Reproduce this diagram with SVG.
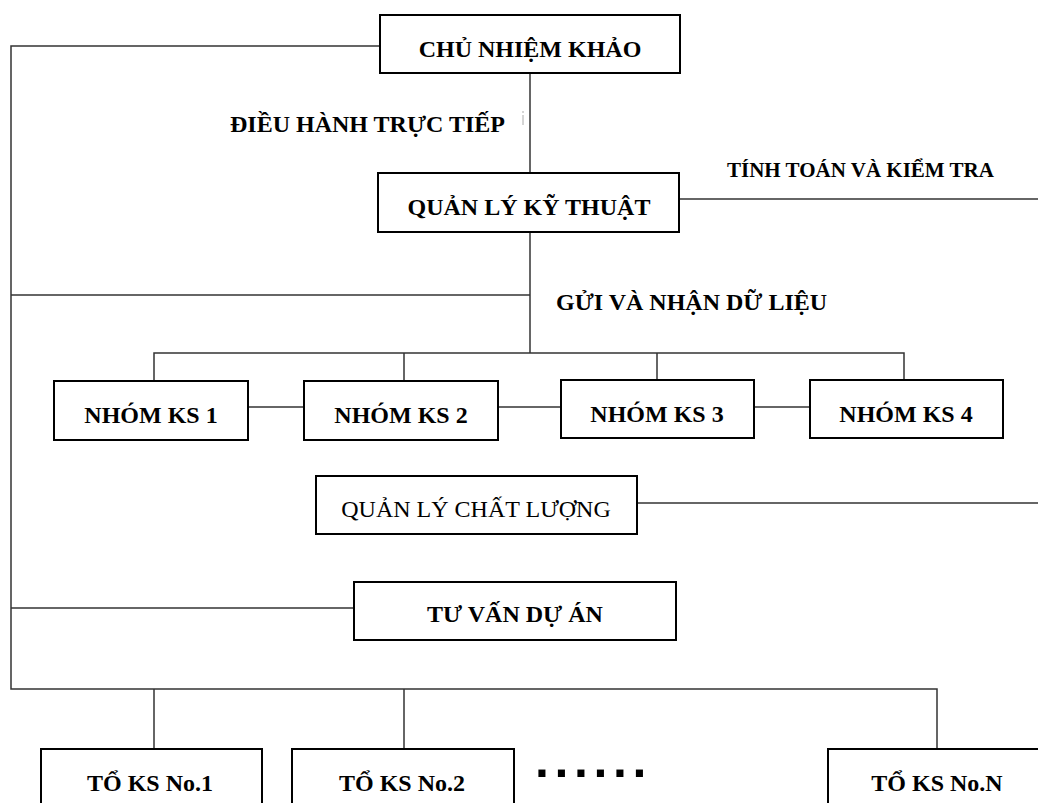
<svg xmlns="http://www.w3.org/2000/svg" width="1038" height="803" viewBox="0 0 1038 803">
<style>
text{font-family:"Liberation Serif","Times New Roman",serif;font-size:24px;font-weight:bold;fill:#000;text-anchor:middle}
.reg{font-weight:normal}
.box{fill:#fff;stroke:#000;stroke-width:2}
.ln{fill:none;stroke:#333;stroke-width:1.5}
.lbl{text-anchor:start}
</style>
<rect width="1038" height="803" fill="#fff"/>
<g id="connectors">
<polyline class="ln" points="380,46 11,46 11,689 937,689 937,749"/>
<line class="ln" x1="530" y1="73" x2="530" y2="173"/>
<line class="ln" x1="679" y1="199" x2="1038" y2="199"/>
<line class="ln" x1="530" y1="232" x2="530" y2="353"/>
<line class="ln" x1="11" y1="295" x2="530" y2="295"/>
<polyline class="ln" points="154,381 154,353 904,353 904,381"/>
<line class="ln" x1="404" y1="353" x2="404" y2="381"/>
<line class="ln" x1="657" y1="353" x2="657" y2="381"/>
<line class="ln" x1="248" y1="407" x2="304" y2="407"/>
<line class="ln" x1="498" y1="407" x2="561" y2="407"/>
<line class="ln" x1="754" y1="407" x2="810" y2="407"/>
<line class="ln" x1="637" y1="503" x2="1038" y2="503"/>
<line class="ln" x1="11" y1="608" x2="354" y2="608"/>
<line class="ln" x1="154" y1="689" x2="154" y2="749"/>
<line class="ln" x1="404" y1="689" x2="404" y2="749"/>
<line x1="523" y1="115" x2="523" y2="125" stroke="#aaa" stroke-width="1"/>
<line x1="523" y1="111" x2="523" y2="113" stroke="#aaa" stroke-width="1"/>
</g>
<g id="labels">
<text class="lbl" x="230" y="132">ĐIỀU HÀNH TRỰC TIẾP</text>
<text class="lbl" x="727" y="177" style="font-size:21px">TÍNH TOÁN VÀ KIỂM TRA</text>
<text class="lbl" x="556" y="310">GỬI VÀ NHẬN DỮ LIỆU</text>
</g>
<g id="n-chu-nhiem">
<rect class="box" x="380" y="15" width="300" height="58"/>
<text x="530" y="57">CHỦ NHIỆM KHẢO</text>
</g>
<g id="n-quan-ly-ky-thuat">
<rect class="box" x="378" y="173" width="301" height="59"/>
<text x="529" y="215">QUẢN LÝ KỸ THUẬT</text>
</g>
<g id="n-nhom-1">
<rect class="box" x="54" y="381" width="194" height="59"/>
<text x="151" y="423">NHÓM KS 1</text>
</g>
<g id="n-nhom-2">
<rect class="box" x="304" y="381" width="194" height="59"/>
<text x="401" y="423">NHÓM KS 2</text>
</g>
<g id="n-nhom-3">
<rect class="box" x="561" y="380" width="193" height="58"/>
<text x="657" y="422">NHÓM KS 3</text>
</g>
<g id="n-nhom-4">
<rect class="box" x="810" y="380" width="193" height="58"/>
<text x="906" y="422">NHÓM KS 4</text>
</g>
<g id="n-qlcl">
<rect class="box" x="316" y="476" width="321" height="58"/>
<text class="reg" x="476" y="517">QUẢN LÝ CHẤT LƯỢNG</text>
</g>
<g id="n-tu-van">
<rect class="box" x="354" y="582" width="322" height="58"/>
<text x="515" y="622">TƯ VẤN DỰ ÁN</text>
</g>
<g id="n-to-1">
<rect class="box" x="41" y="749" width="221" height="80"/>
<text x="150" y="791">TỔ KS No.1</text>
</g>
<g id="n-to-2">
<rect class="box" x="292" y="749" width="222" height="80"/>
<text x="402" y="791">TỔ KS No.2</text>
</g>
<g id="n-ellipsis">
<text class="lbl" x="535" y="777" style="font-family:'Liberation Sans',Arial,sans-serif;font-size:50px;letter-spacing:5.6px">......</text>
</g>
<g id="n-to-n">
<rect class="box" x="828" y="749" width="220" height="80"/>
<text x="937" y="791">TỔ KS No.N</text>
</g>
</svg>
